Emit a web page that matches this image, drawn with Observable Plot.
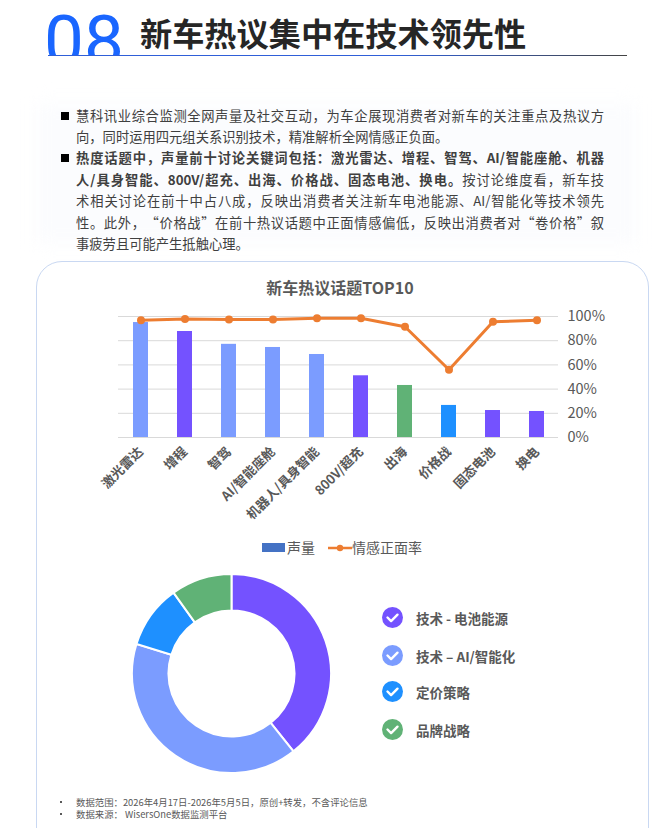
<!DOCTYPE html>
<html lang="zh">
<head>
<meta charset="utf-8">
<script src="https://cdn.jsdelivr.net/npm/d3@7"></script>
<script src="https://cdn.jsdelivr.net/npm/@observablehq/plot@0.6"></script>
<style>
html,body{margin:0;padding:0;background:#fff;}
body{width:666px;height:828px;position:relative;overflow:hidden;font-family:"Noto Sans CJK SC","Noto Sans",sans-serif;}
.abs{position:absolute;}
#num{left:44px;top:0;height:55px;overflow:hidden;font:400 71px/82px Roboto,sans-serif;color:#1A66FF;letter-spacing:0;}
#headline{left:140px;top:9px;font-weight:700;font-size:32.2px;line-height:46px;color:#262626;white-space:nowrap;}
#rule{left:48px;top:55px;width:579px;height:1px;background:linear-gradient(90deg,#2F5FD8,#2F5FD8 60%,#444);}
#glow{left:36px;top:104px;width:600px;height:140px;background:#FBFCFE;filter:blur(9px);}
.ln{left:76px;width:528px;height:21px;font-size:13.3px;line-height:21px;color:#404040;text-align:justify;text-align-last:justify;white-space:nowrap;text-spacing-trim:space-all;}
.ln.last{text-align-last:left;}
.sq{left:61px;width:8px;height:8px;background:#000;}
#card{left:36px;top:261px;width:613px;height:620px;border:1px solid #C9D8F2;border-radius:26px;background:#fff;box-sizing:border-box;}
#ctitle{left:0;width:680px;top:276px;text-align:center;font-weight:700;font-size:16px;line-height:22px;color:#595959;}
#bar,#pie{left:0;top:0;}
#lg{left:262px;top:537px;height:20px;font-size:14px;line-height:20px;color:#595959;white-space:nowrap;}
.li{left:382px;height:22px;display:flex;align-items:center;font-weight:700;font-size:13.5px;color:#595959;white-space:nowrap;}
.li svg{margin-right:13px;}
.fn{left:76px;font-size:9.4px;line-height:12px;height:12px;color:#595959;white-space:nowrap;}
.fb{left:60px;width:2px;height:2px;background:#595959;}
</style>
</head>
<body>
<div class="abs" id="num">08</div>
<div class="abs" id="headline">新车热议集中在技术领先性</div>
<div class="abs" id="rule"></div>
<div class="abs" id="glow"></div>
<div class="abs" id="para"></div>
<div class="abs" id="card"></div>
<div class="abs" id="ctitle">新车热议话题TOP10</div>
<div class="abs" id="bar"></div>
<div class="abs" id="lg"></div>
<div class="abs" id="pie"></div>
<div id="legend"></div>
<div id="foot"></div>
<script>
// ---- text ----
const paragraphLines = [
  ["慧科讯业综合监测全网声量及社交互动，为车企展现消费者对新车的关注重点及热议方", false, true],
  ["向，同时运用四元组关系识别技术，精准解析全网情感正负面。", false, false],
  ["<b>热度话题中，声量前十讨论关键词包括：激光雷达、增程、智驾、AI/智能座舱、机器</b>", true, true],
  ["<b>人/具身智能、800V/超充、出海、价格战、固态电池、换电。</b>按讨论维度看，新车技", false, true],
  ["术相关讨论在前十中占八成，反映出消费者关注新车电池能源、AI/智能化等技术领先", false, true],
  ["性。此外，“价格战”在前十热议话题中正面情感偏低，反映出消费者对“卷价格”叙", false, true],
  ["事疲劳且可能产生抵触心理。", false, false]
];
const footnotes = ["数据范围：2026年4月17日-2026年5月5日，原创+转发，不含评论信息","数据来源： WisersOne数据监测平台"];

// ---- bar + line chart ----
const topics = ["激光雷达","增程","智驾","AI/智能座舱","机器人/具身智能","800V/超充","出海","价格战","固态电池","换电"];
const volume = [95,87.6,77,74.4,68.6,51,43,26.5,22.3,21.5];
const positiveRate = [97,98,97.5,97.5,98.5,98.5,91.5,56,95.6,97];
const topicGroup = ["ai","battery","ai","ai","ai","battery","brand","price","battery","battery"];
const yTicks = [0,20,40,60,80,100];

// ---- donut ----
const groupKeys = ["battery","ai","price","brand"];
const groupNames = ["技术 - 电池能源","技术 – AI/智能化","定价策略","品牌战略"];
const groupShare = [39.3,40.5,10.3,9.9];
const groupColors = ["#7452FF","#7B9CFF","#1E90FF","#60B276"];

// paragraph
const lineTops = [105,126,147,169,190,212,233];
paragraphLines.forEach((l,i)=>{
  const d=document.createElement("div");
  d.className="abs ln"+(l[2]?"":" last");
  d.style.top=lineTops[i]+"px";
  d.innerHTML=l[0];
  document.body.appendChild(d);
});
[112,154].forEach(t=>{const s=document.createElement("div");s.className="abs sq";s.style.top=t+"px";document.body.appendChild(s);});

// combo chart
const barData = topics.map((t,i)=>({topic:t,volume:volume[i],rate:positiveRate[i],group:topicGroup[i]}));
const barPlot = Plot.plot({
  width:666,height:540,
  marginLeft:118,marginRight:108,marginTop:316,marginBottom:103,
  style:{background:"transparent",overflow:"visible",fontFamily:'"Noto Sans CJK SC","Noto Sans",sans-serif'},
  x:{domain:topics,paddingInner:0.66,paddingOuter:0.33,label:null},
  y:{domain:[0,100],label:null},
  color:{domain:groupKeys,range:groupColors},
  marks:[
    Plot.ruleY(yTicks,{stroke:"#D9D9D9",strokeWidth:1,strokeOpacity:1}),
    Plot.barY(barData,{x:"topic",y:"volume",fill:"group"}),
    Plot.line(barData,{x:"topic",y:"rate",stroke:"#ED7D31",strokeWidth:3}),
    Plot.dot(barData,{x:"topic",y:"rate",fill:"#ED7D31",r:4}),
    Plot.axisX({tickRotate:-45,tickSize:0,tickPadding:12,fontSize:13,fontWeight:700,fill:"#595959",label:null}),
    Plot.axisY({anchor:"right",ticks:yTicks,tickSize:0,tickPadding:9,fontSize:14.5,fill:"#595959",label:null,tickFormat:d=>d+"%",textAnchor:"start"})
  ]
});
document.getElementById("bar").appendChild(barPlot);

// series legend
document.getElementById("lg").innerHTML =
 '<span style="display:inline-block;width:23px;height:9px;background:#4472C4;vertical-align:1px;margin-right:2px"></span>声量'+
 '<svg width="24" height="10" style="margin-left:13px;vertical-align:0"><line x1="0" x2="24" y1="5" y2="5" stroke="#ED7D31" stroke-width="2.5"/><circle cx="12" cy="5" r="3.2" fill="#ED7D31"/></svg>情感正面率';

// donut
const pieData = d3.pie().sort(null).value(d=>d.share)(groupKeys.map((k,i)=>({key:k,share:groupShare[i]})));
const donut = (index,scales)=>{
  const arc=d3.arc().innerRadius(63).outerRadius(99.5);
  const g=d3.create("svg:g").attr("transform","translate(231.5,673.5)");
  g.selectAll("path").data(pieData).join("path")
    .attr("d",arc).attr("fill",d=>scales.color(d.data.key))
    .attr("stroke","#fff").attr("stroke-width",2);
  return g.node();
};
const piePlot = Plot.plot({
  width:666,height:828,margin:0,
  style:{background:"transparent"},
  color:{domain:groupKeys,range:groupColors},
  x:{axis:null,domain:[0,1]},y:{axis:null,domain:[0,1]},
  marks:[donut]
});
document.getElementById("pie").appendChild(piePlot);

// category legend
const legendTops=[606.5,644.5,680.5,718.5];
groupNames.forEach((n,i)=>{
  const d=document.createElement("div");
  d.className="abs li";d.style.top=legendTops[i]+"px";
  d.innerHTML='<svg width="21" height="21" viewBox="0 0 21 21"><circle cx="10.5" cy="10.5" r="10.5" fill="'+groupColors[i]+'"/><path d="M5.5 10.5l3.6 3.6 6.4-6.4" fill="none" stroke="#fff" stroke-width="2.4" stroke-linecap="round" stroke-linejoin="round"/></svg>'+n;
  document.body.appendChild(d);
});

// footnotes
[796,808].forEach((t,i)=>{
  const d=document.createElement("div");d.className="abs fn";d.style.top=t+"px";d.textContent=footnotes[i];document.body.appendChild(d);
  const b=document.createElement("div");b.className="abs fb";b.style.top=(t+5)+"px";document.body.appendChild(b);
});
</script>
</body>
</html>
